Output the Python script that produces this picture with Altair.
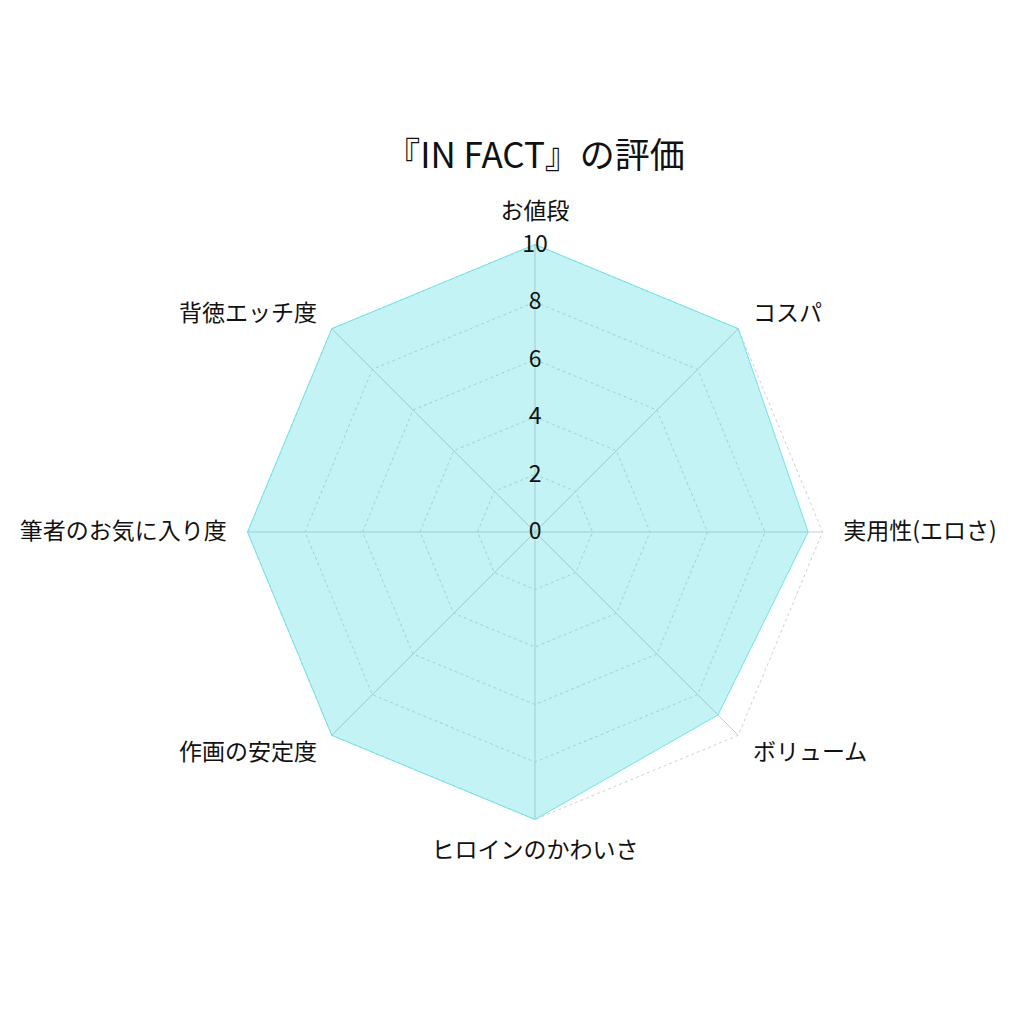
import altair as alt
import pandas as pd

categories = ["お値段", "コスパ", "実用性(エロさ)", "ボリューム",
              "ヒロインのかわいさ", "作画の安定度", "筆者のお気に入り度", "背徳エッチ度"]
values = [10, 10, 9.5, 9, 10, 10, 10, 10]
levels = [2, 4, 6, 8, 10]
tick_labels = [0, 2, 4, 6, 8, 10]
title_text = "『IN FACT』の評価"
FONT = "Noto Sans CJK JP"
N = len(categories)
LABEL_R = 10.72

score_df = pd.DataFrame({"cat": categories, "idx": list(range(N)), "value": values})
ring_df = pd.DataFrame([{"level": lv, "idx": i} for lv in levels for i in range(N)])
spoke_df = pd.DataFrame({"idx": list(range(N)), "r": [10] * N})
tick_df = pd.DataFrame({"t": tick_labels})

ang = "datum.idx * 2 * PI / %d" % N
X = alt.X("x:Q", scale=alt.Scale(domain=[-11.2, 11.2]), axis=None)
Y = alt.Y("y:Q", scale=alt.Scale(domain=[-11.2, 11.2]), axis=None)

rings = alt.Chart(ring_df).transform_calculate(
    x="datum.level * sin(%s)" % ang, y="datum.level * cos(%s)" % ang
).mark_line(interpolate="linear-closed", stroke="#c4c4c4", strokeWidth=0.8,
            strokeDash=[3, 3]).encode(x=X, y=Y, detail="level:N", order="idx:Q")

spokes = alt.Chart(spoke_df).transform_calculate(
    x="datum.r * sin(%s)" % ang, y="datum.r * cos(%s)" % ang, x0="0", y0="0"
).mark_rule(stroke="#c8c8c8", strokeWidth=0.9).encode(
    x=alt.X("x0:Q", scale=alt.Scale(domain=[-11.2, 11.2]), axis=None),
    y=alt.Y("y0:Q", scale=alt.Scale(domain=[-11.2, 11.2]), axis=None),
    x2="x:Q", y2="y:Q")

poly = alt.Chart(score_df).transform_calculate(
    x="datum.value * sin(%s)" % ang, y="datum.value * cos(%s)" % ang
).mark_line(interpolate="linear-closed", stroke="#6fe3ea", strokeWidth=1,
            fill="#0fd0d4", fillOpacity=0.25).encode(x=X, y=Y, order="idx:Q")

ticks = alt.Chart(tick_df).transform_calculate(x="0", y="datum.t").mark_text(
    font=FONT, fontSize=23, color="#111111", align="center", baseline="middle"
).encode(x=X, y=Y, text="t:Q")

def label_layer(filter_expr, align, baseline, dy=0):
    return alt.Chart(score_df).transform_filter(filter_expr).transform_calculate(
        x="%f * sin(%s)" % (LABEL_R, ang), y="%f * cos(%s)" % (LABEL_R, ang)
    ).mark_text(font=FONT, fontSize=23, color="#111111", align=align,
                baseline=baseline, dy=dy).encode(x=X, y=Y, text="cat:N")

labels = [
    label_layer("datum.idx == 0", "center", "bottom"),
    label_layer("datum.idx == 4", "center", "top"),
    label_layer("datum.idx == 1 || datum.idx == 2", "left", "middle"),
    label_layer("datum.idx == 3", "left", "middle", dy=3),
    label_layer("datum.idx == 6 || datum.idx == 7", "right", "middle"),
    label_layer("datum.idx == 5", "right", "middle", dy=3),
]

chart = alt.layer(rings, spokes, poly, ticks, *labels).properties(
    width=644, height=644,
    title=alt.TitleParams(title_text, font=FONT, fontSize=35, fontWeight="normal",
                          color="#111111", anchor="middle", offset=26),
    autosize=alt.AutoSizeParams(type="none"),
    padding={"left": 205, "top": 202, "right": 150, "bottom": 150},
).configure_view(stroke=None)

chart.save("out.html", embed_options={"renderer": "svg", "actions": False})
